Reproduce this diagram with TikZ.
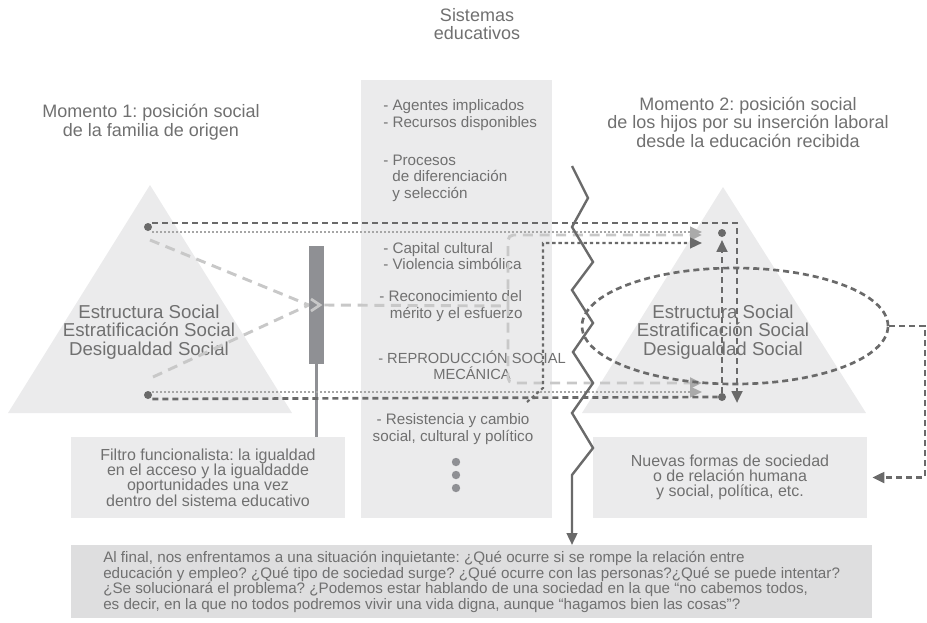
\documentclass[tikz,border=0pt]{standalone}
\usepackage{fontspec}
\setmainfont{Liberation Sans}
\usetikzlibrary{arrows.meta,positioning,shapes.geometric}

\definecolor{txtgray}{HTML}{707070}
\definecolor{panelgray}{HTML}{EBEBEC}
\definecolor{notegray}{HTML}{DEDEDF}
\definecolor{linedark}{HTML}{6A6A6A}
\definecolor{linesoft}{HTML}{C8C8C8}
\definecolor{dotgray}{HTML}{A6A6A6}
\definecolor{bargray}{HTML}{8F9094}

\newlength\px
\setlength\px{0.75pt}

\tikzset{
  txt/.style={text=txtgray, inner sep=0pt, align=center, font=\fontsize{13.5}{13.9}\selectfont},
  tritxt/.style={txt, font=\fontsize{14}{13.9}\selectfont},
  listtxt/.style={txt, align=left, anchor=west, font=\fontsize{11.4}{12.4}\selectfont},
  boxtxt/.style={txt, font=\fontsize{12}{11.4}\selectfont},
  panel/.style={fill=panelgray, inner sep=0pt},
  dot/.style={circle, fill=linedark, inner sep=0pt, minimum size=8*\px},
  hard/.style={draw=linedark, line width=2pt, dash pattern=on 4.5pt off 3pt},
  fine/.style={draw=linedark, line width=1.6pt, dash pattern=on 2.5pt off 2.2pt},
  soft/.style={draw=linesoft, line width=2.2pt, dash pattern=on 7.5pt off 5pt},
  dots/.style={draw=dotgray, line width=1.5pt, dash pattern=on 1.5pt off 1.5pt},
  tip/.style={-{Triangle[length=9pt, width=8pt]}},
  softtip/.style={-{Triangle[length=9pt, width=8pt, color=linesoft!85!black]}},
  zig/.style={draw=linedark, line width=1.8pt, line join=miter}
}

\begin{document}
\frenchspacing
\begin{tikzpicture}[x=0.75pt, y=-0.75pt]
\useasboundingbox (0,0) rectangle (927,622);

% titles
\node[txt] (sistemas) at (477,24) {Sistemas\\educativos};
\node[txt] (momento1) at (151,122) {Momento 1: posición social\\de la familia de origen};
\node[txt] (momento2) at (748,122) {Momento 2: posición social\\de los hijos por su inserción laboral\\desde la educación recibida};

% panels and triangles
\node[panel, minimum width=191*\px, minimum height=438*\px] (sist) at (456.5,299) {};
\fill[panelgray] (8,413) -- (150,185) -- (292,413) -- cycle;
\fill[panelgray] (582,413) -- (723,187) -- (866,413) -- cycle;
\node[panel, boxtxt, minimum width=274*\px, minimum height=81*\px] (filtro) at (208,477.5)
  {Filtro funcionalista: la igualdad\\en el acceso y la igualdadde\\oportunidades una vez\\dentro del sistema educativo};
\node[panel, boxtxt, minimum width=274*\px, minimum height=81*\px] (nuevas) at (730,477.5)
  {Nuevas formas de sociedad\\o de relación humana\\y social, política, etc.};
\node[fill=notegray, txt, align=left, anchor=north west, inner xsep=32*\px,
  minimum height=73*\px, font=\fontsize{11.4}{10.1}\selectfont] (final) at (71,545)
  {Al final, nos enfrentamos a una situación inquietante: ¿Qué ocurre si se rompe la relación entre\\
   educación y empleo? ¿Qué tipo de sociedad surge? ¿Qué ocurre con las personas?¿Qué se puede intentar?\\
   ¿Se solucionará el problema? ¿Podemos estar hablando de una sociedad en la que ``no cabemos todos,\\
   es decir, en la que no todos podremos vivir una vida digna, aunque ``hagamos bien las cosas''?};

% structure texts
\node[tritxt] (origen) at (149,332) {Estructura Social\\Estratificación Social\\Desigualdad Social};
\node[tritxt] (destino) at (723,332) {Estructura Social\\Estratificación Social\\Desigualdad Social};

% list of the educational system
\node[listtxt] (agentes) at (383,115) {- Agentes implicados\\- Recursos disponibles};
\node[listtxt] (procesos) at (383,178) {- Procesos\\\hspace*{0.6em}de diferenciación\\\hspace*{0.6em}y selección};
\node[listtxt] (capital) at (383,256) {- Capital cultural\\- Violencia simbólica};
\node[listtxt] (merito) at (379,306) {- Reconocimiento del\\\hspace*{0.7em}mérito y el esfuerzo};
\node[txt, font=\fontsize{11}{12.2}\selectfont] (reproduccion) at (472,365) {- REPRODUCCIÓN SOCIAL\\MECÁNICA};
\node[txt, font=\fontsize{11.4}{12.4}\selectfont] (resistencia) at (453,429) {- Resistencia y cambio\\social, cultural y político};
\foreach \y in {462,475,488}
  \fill[bargray] (456,\y) circle (4.2*\px);

% filter bar
\node[fill=bargray, minimum width=15*\px, minimum height=118*\px, inner sep=0pt] (barra) at (316.5,305) {};
\draw[bargray, line width=1.6pt] (barra.south) -- (barra.south |- filtro.north);

% positions
\node[dot] (ld1) at (148,227) {};
\node[dot] (ld2) at (148,395) {};
\node[dot] (rd1) at (722,233) {};
\node[dot] (rd2) at (722,397) {};

\coordinate (topturn) at (737,223);
\coordinate (topdown) at (737,403);
\coordinate (inup) at (702,232);
\coordinate (indown) at (702,392);
\coordinate (fa) at (150,240);
\coordinate (fb) at (153,377);
\coordinate (split) at (508,306);
\coordinate (softup) at (702,235);
\coordinate (softdown) at (702,383);
\coordinate (finestart) at (527,402);
\coordinate (fineturn) at (543,243);
\coordinate (finein) at (702,243);

% soft lines through the filter
\draw[soft] (fa) -- (barra.west);
\draw[soft] (fb) -- (barra.west);
\draw[linesoft, line width=2pt] (311,299) -- (320,305) -- (311,311);
\draw[soft] (barra.east) -- (split);
\draw[soft, softtip, rounded corners=4pt] (split) |- (softup);
\draw[soft, softtip, rounded corners=4pt] (split) |- (softdown);

% dotted reproduction lines
\draw[dots, softtip] (ld1.east |- inup) -- (inup);
\draw[dots, softtip] (ld2.east |- indown) -- (indown);

% mobility lines
\draw[hard, tip] (ld1.east |- topturn) -- (topturn) -- (topdown);
\draw[hard] (ld2.east |- 0,399) -- (rd2);
\draw[hard, tip, shorten >=2pt] (rd2.north) -- (rd1.south);
\draw[fine, tip] (finestart) -- (543,388) -- (fineturn) -- (finein);

% change loop
\node[hard, ellipse, minimum width=306*\px, minimum height=116*\px, inner sep=0pt] (cambio) at (735,326) {};
\coordinate (turn) at (925,326);
\draw[hard, tip] (cambio.east) -- (turn) |- ([xshift=5*\px]nuevas.east);

% break line
\coordinate (zzend) at (572,475);
\draw[zig, tip] (572,166) -- (588,198) -- (572,227) -- (593,262) -- (572,290) -- (593,323)
  -- (573,352) -- (593,383) -- (572,413) -- (593,448) -- (zzend) -- (zzend |- final.north);
\end{tikzpicture}
\end{document}
